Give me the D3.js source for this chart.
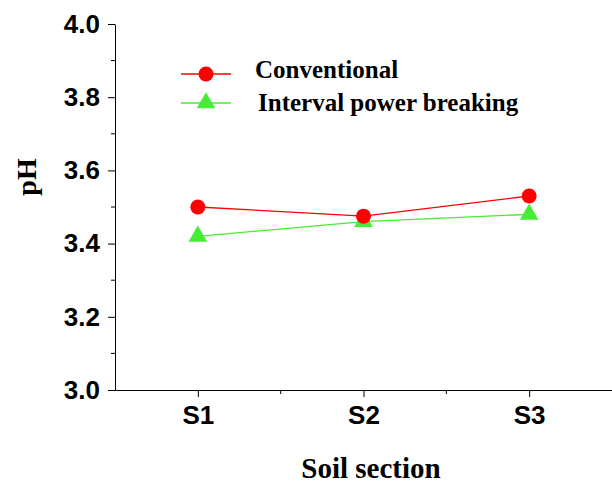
<!DOCTYPE html>
<html>
<head>
<meta charset="utf-8">
<script src="https://cdn.jsdelivr.net/npm/d3@7"></script>
<style>
  body { margin: 0; background: #fff; }
  svg text { fill: #000; }
</style>
</head>
<body>
<div id="chart"></div>
<script>
var sections = ["S1", "S2", "S3"];
var conventional = [3.50, 3.475, 3.53];
var intervalBreaking = [3.42, 3.46, 3.48];
var yTicks = [3.0, 3.2, 3.4, 3.6, 3.8, 4.0];

var W = 612, H = 483;
var svg = d3.select("#chart").append("svg")
    .attr("width", W)
    .attr("height", H);

// x: positions 1..3, axis spans half a step either side
var x = d3.scaleLinear().domain([0.5, 3.5]).range([115, 612]);
var y = d3.scaleLinear().domain([3.0, 4.0]).range([390, 24]);

// y axis
var yAxis = svg.append("g")
    .attr("transform", "translate(115,0)")
    .call(d3.axisLeft(y).tickValues(yTicks).tickFormat(d3.format(".1f")).tickSizeInner(7).tickSizeOuter(0).tickPadding(8));
yAxis.selectAll("text")
    .style("font-family", "Liberation Sans, Arial, sans-serif")
    .style("font-weight", "bold")
    .style("font-size", "26px");
yAxis.append("g").selectAll("line")
    .data(d3.range(3.1, 4.0, 0.2))
    .enter().append("line")
    .attr("x1", -4).attr("x2", 0)
    .attr("y1", function(d) { return y(d); })
    .attr("y2", function(d) { return y(d); })
    .attr("stroke", "#000");

// x axis
var xAxis = svg.append("g")
    .attr("transform", "translate(0,390)")
    .call(d3.axisBottom(x).tickValues([1, 2, 3]).tickFormat(function(d) { return sections[d - 1]; })
        .tickSizeInner(7).tickSizeOuter(0).tickPadding(9));
xAxis.selectAll("text")
    .style("font-family", "Liberation Sans, Arial, sans-serif")
    .style("font-weight", "bold")
    .style("font-size", "26px");
xAxis.append("g").selectAll("line")
    .data([1.5, 2.5])
    .enter().append("line")
    .attr("y1", 0).attr("y2", 4)
    .attr("x1", function(d) { return x(d); })
    .attr("x2", function(d) { return x(d); })
    .attr("stroke", "#000");
svg.selectAll(".domain").attr("stroke", "#000");

// axis titles
svg.append("text")
    .attr("x", 371).attr("y", 478)
    .attr("text-anchor", "middle")
    .style("font-family", "Liberation Serif, 'Times New Roman', serif")
    .style("font-weight", "bold")
    .style("font-size", "29px")
    .text("Soil section");
svg.append("text")
    .attr("transform", "translate(36,177) rotate(-90)")
    .attr("text-anchor", "middle")
    .style("font-family", "Liberation Serif, 'Times New Roman', serif")
    .style("font-weight", "bold")
    .style("font-size", "28px")
    .text("pH");

var line = d3.line()
    .x(function(d, i) { return x(i + 1); })
    .y(function(d) { return y(d); });

var red = "#ff0000", green = "#44ee33";
var tri = d3.symbol().type(d3.symbolTriangle).size(150);

// interval power breaking
svg.append("path").datum(intervalBreaking)
    .attr("d", line).attr("fill", "none").attr("stroke", green).attr("stroke-width", 1.3);
svg.selectAll(".tri").data(intervalBreaking).enter().append("path")
    .attr("class", "tri")
    .attr("d", tri)
    .attr("transform", function(d, i) { return "translate(" + x(i + 1) + "," + y(d) + ")"; })
    .attr("fill", green);

// conventional
svg.append("path").datum(conventional)
    .attr("d", line).attr("fill", "none").attr("stroke", red).attr("stroke-width", 1.3);
svg.selectAll(".dot").data(conventional).enter().append("circle")
    .attr("class", "dot")
    .attr("cx", function(d, i) { return x(i + 1); })
    .attr("cy", function(d) { return y(d); })
    .attr("r", 7.5)
    .attr("fill", red);

// legend
var legend = [
    {name: "Conventional", color: red, shape: "circle", ly: 74, tx: 255, ty: 78},
    {name: "Interval power breaking", color: green, shape: "triangle", ly: 103, tx: 258, ty: 111}
];
var lg = svg.selectAll(".legend").data(legend).enter().append("g")
    .attr("class", "legend");
lg.append("line")
    .attr("x1", 181).attr("x2", 231)
    .attr("y1", function(d) { return d.ly; })
    .attr("y2", function(d) { return d.ly; })
    .attr("stroke", function(d) { return d.color; })
    .attr("stroke-width", 1.3);
lg.each(function(d) {
    var g = d3.select(this);
    if (d.shape == "circle") {
        g.append("circle").attr("cx", 206).attr("cy", d.ly).attr("r", 7.5).attr("fill", d.color);
    } else {
        g.append("path").attr("d", tri)
            .attr("transform", "translate(206," + d.ly + ")")
            .attr("fill", d.color);
    }
});
lg.append("text")
    .attr("x", function(d) { return d.tx; })
    .attr("y", function(d) { return d.ty; })
    .style("font-family", "Liberation Serif, 'Times New Roman', serif")
    .style("font-weight", "bold")
    .style("font-size", "25px")
    .text(function(d) { return d.name; });
</script>
</body>
</html>
